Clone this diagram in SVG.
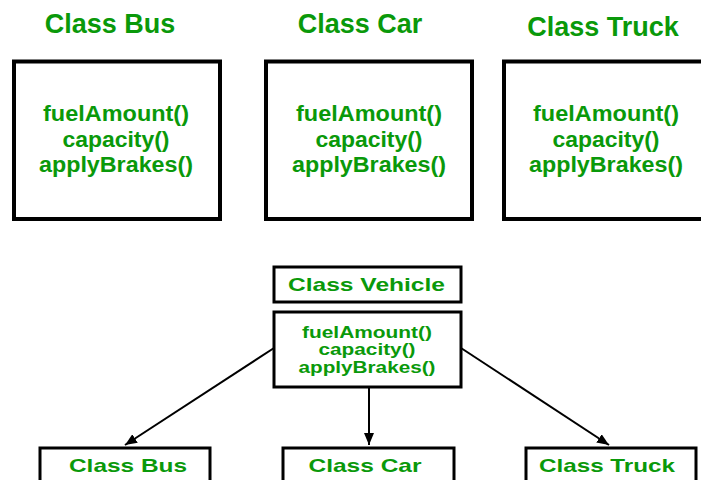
<svg xmlns="http://www.w3.org/2000/svg" width="701" height="480" viewBox="0 0 701 480">
<style>
text{font-family:"Liberation Sans",Arial,sans-serif;font-weight:bold;fill:#0a990a;text-anchor:middle}
.title{font-size:27px}
.m{font-size:22px}
.sm{font-size:16.5px}
.lb{font-size:19px}
.box{fill:#fff;stroke:#000;stroke-width:4}
.box3{fill:#fff;stroke:#000;stroke-width:3}
.conn{stroke:#000;stroke-width:2;fill:none}
</style>
<defs>
<marker id="arr" viewBox="0 0 12 10" refX="12" refY="5" markerWidth="12" markerHeight="10" markerUnits="userSpaceOnUse" orient="auto">
<path d="M0,0 L12,5 L0,10 z" fill="#000"/>
</marker>
</defs>
<rect width="701" height="480" fill="#fff"/>
<g id="bus-top">
<text class="title" x="110" y="33">Class Bus</text>
<rect class="box" x="14" y="61.5" width="206" height="157.5"/>
<text class="m" x="116" y="121" textLength="146" lengthAdjust="spacingAndGlyphs">fuelAmount()</text>
<text class="m" x="116" y="147" textLength="107" lengthAdjust="spacingAndGlyphs">capacity()</text>
<text class="m" x="116" y="172" textLength="154" lengthAdjust="spacingAndGlyphs">applyBrakes()</text>
</g>
<g id="car-top">
<text class="title" x="360" y="33">Class Car</text>
<rect class="box" x="266" y="61.5" width="206" height="157.5"/>
<text class="m" x="369" y="121" textLength="146" lengthAdjust="spacingAndGlyphs">fuelAmount()</text>
<text class="m" x="369" y="147" textLength="107" lengthAdjust="spacingAndGlyphs">capacity()</text>
<text class="m" x="369" y="172" textLength="154" lengthAdjust="spacingAndGlyphs">applyBrakes()</text>
</g>
<g id="truck-top">
<text class="title" x="603" y="36">Class Truck</text>
<rect class="box" x="504" y="61.5" width="206" height="157.5"/>
<text class="m" x="606" y="121" textLength="146" lengthAdjust="spacingAndGlyphs">fuelAmount()</text>
<text class="m" x="606" y="147" textLength="107" lengthAdjust="spacingAndGlyphs">capacity()</text>
<text class="m" x="606" y="172" textLength="154" lengthAdjust="spacingAndGlyphs">applyBrakes()</text>
</g>
<g id="connectors">
<line class="conn" x1="274" y1="348" x2="125" y2="445" marker-end="url(#arr)"/>
<line class="conn" x1="369" y1="388" x2="369" y2="445" marker-end="url(#arr)"/>
<line class="conn" x1="461" y1="348" x2="609" y2="445" marker-end="url(#arr)"/>
</g>
<g id="vehicle">
<rect class="box3" x="274" y="267" width="187" height="35"/>
<text class="lb" x="366.5" y="291" textLength="157" lengthAdjust="spacingAndGlyphs">Class Vehicle</text>
<rect class="box3" x="274" y="312" width="187" height="75"/>
<text class="sm" x="367" y="338" textLength="130" lengthAdjust="spacingAndGlyphs">fuelAmount()</text>
<text class="sm" x="367" y="355" textLength="97" lengthAdjust="spacingAndGlyphs">capacity()</text>
<text class="sm" x="367" y="373" textLength="137" lengthAdjust="spacingAndGlyphs">applyBrakes()</text>
</g>
<g id="bus-bottom">
<rect class="box3" x="40" y="448" width="170" height="40"/>
<text class="lb" x="128" y="472" textLength="118" lengthAdjust="spacingAndGlyphs">Class Bus</text>
</g>
<g id="car-bottom">
<rect class="box3" x="283" y="448" width="171" height="40"/>
<text class="lb" x="365" y="472" textLength="113" lengthAdjust="spacingAndGlyphs">Class Car</text>
</g>
<g id="truck-bottom">
<rect class="box3" x="526" y="448" width="170" height="40"/>
<text class="lb" x="607" y="472" textLength="136" lengthAdjust="spacingAndGlyphs">Class Truck</text>
</g>
</svg>
